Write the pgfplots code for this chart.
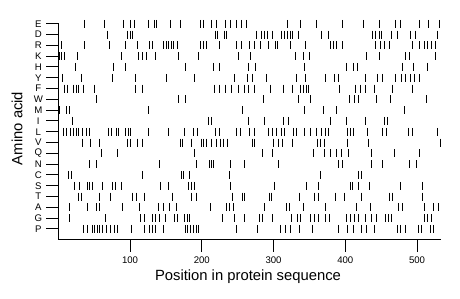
\documentclass[border=0pt]{standalone}
\usepackage{pgfplots}
\pgfplotsset{compat=1.18}
\usepackage{fontspec}
\setmainfont{Liberation Sans}
\begin{document}
\begin{tikzpicture}
\useasboundingbox (0,0) rectangle (460pt,299pt);
\begin{axis}[
  at={(58.3pt,59.2pt)}, anchor=south west,
  scale only axis, width=382.4pt, height=217.1pt,
  xmin=0, xmax=533, ymin=0, ymax=20.1,
  clip=false,
  axis x line=bottom, axis y line=left,
  axis line style={-, line width=1pt},
  tick style={line width=1pt, black},
  tick align=outside, major tick length=12pt,
  xtick={100,200,300,400,500},
  ytick={1,...,20},
  yticklabels={P,G,A,T,S,C,N,Q,V,L,I,M,W,F,Y,H,K,R,D,E},
  /pgf/number format/assume math mode=true,
  ticklabel style={font=\fontsize{9.6}{11}\selectfont},
  yticklabel style={anchor=center, xshift=-8pt},
  xticklabel style={anchor=north, yshift=-1pt},
  xlabel={Position in protein sequence},
  ylabel={Amino acid},
  label style={font=\fontsize{14.8}{17}\selectfont},
  xlabel style={at={(axis description cs:0.496,-0.170)}, anchor=center},
  ylabel style={at={(axis description cs:-0.108,0.513)}, anchor=center},
  rug/.style={black, only marks, mark=|, mark size=4pt, mark options={line width=0.9pt, black}},
]
% E
\addplot[rug] coordinates {(37,20)(64,20)(91,20)(101,20)(106,20)(126,20)(134,20)(137,20)(157,20)(170,20)(198,20)(203,20)(214,20)(221,20)(233,20)(240,20)(248,20)(255,20)(262,20)(320,20)(337,20)(360,20)(396,20)(426,20)(447,20)(470,20)(477,20)(503,20)(516,20)(531,20)};
% D
\addplot[rug] coordinates {(68,19)(97,19)(101,19)(104,19)(219,19)(222,19)(231,19)(234,19)(276,19)(283,19)(288,19)(291,19)(299,19)(311,19)(315,19)(319,19)(323,19)(326,19)(335,19)(367,19)(376,19)(438,19)(442,19)(447,19)(451,19)(465,19)(473,19)(491,19)(498,19)(528,19)};
% R
\addplot[rug] coordinates {(4,18)(37,18)(71,18)(94,18)(110,18)(127,18)(131,18)(147,18)(151,18)(154,18)(158,18)(161,18)(166,18)(198,18)(202,18)(206,18)(224,18)(249,18)(255,18)(266,18)(274,18)(282,18)(293,18)(303,18)(306,18)(324,18)(344,18)(380,18)(383,18)(387,18)(396,18)(442,18)(449,18)(454,18)(461,18)(493,18)(504,18)(510,18)(515,18)(520,18)(526,18)};
% K
\addplot[rug] coordinates {(1,17)(5,17)(9,17)(27,17)(88,17)(112,17)(117,17)(123,17)(136,17)(168,17)(196,17)(251,17)(268,17)(331,17)(342,17)(350,17)(430,17)(448,17)(484,17)(489,17)(526,17)};
% H
\addplot[rug] coordinates {(24,16)(77,16)(94,16)(177,16)(216,16)(225,16)(265,16)(275,16)(343,16)(401,16)(411,16)(417,16)(480,16)(495,16)(514,16)};
% Y
\addplot[rug] coordinates {(6,15)(32,15)(75,15)(107,15)(151,15)(190,15)(245,15)(263,15)(271,15)(290,15)(332,15)(345,15)(373,15)(385,15)(391,15)(428,15)(445,15)(452,15)(470,15)(478,15)(484,15)(491,15)(496,15)(503,15)};
% F
\addplot[rug] coordinates {(9,14)(13,14)(21,14)(25,14)(28,14)(35,14)(50,14)(108,14)(117,14)(218,14)(225,14)(233,14)(242,14)(251,14)(259,14)(265,14)(273,14)(295,14)(314,14)(327,14)(338,14)(342,14)(346,14)(349,14)(392,14)(414,14)(421,14)(428,14)(440,14)(466,14)(493,14)};
% W
\addplot[rug] coordinates {(53,13)(167,13)(177,13)(286,13)(335,13)(352,13)(406,13)(413,13)(418,13)(443,13)(463,13)(513,13)};
% M
\addplot[rug] coordinates {(2,12)(11,12)(15,12)(125,12)(256,12)(343,12)(369,12)(388,12)(482,12)};
% I
\addplot[rug] coordinates {(20,11)(209,11)(213,11)(265,11)(287,11)(314,11)(321,11)(379,11)(402,11)(428,11)(454,11)(459,11)};
% L
\addplot[rug] coordinates {(7,10)(12,10)(17,10)(21,10)(25,10)(28,10)(34,10)(39,10)(43,10)(70,10)(74,10)(81,10)(84,10)(93,10)(98,10)(101,10)(125,10)(153,10)(176,10)(189,10)(194,10)(219,10)(224,10)(249,10)(254,10)(267,10)(274,10)(293,10)(298,10)(304,10)(311,10)(315,10)(328,10)(332,10)(343,10)(351,10)(360,10)(367,10)(372,10)(376,10)(403,10)(407,10)(411,10)(431,10)(452,10)(457,10)(488,10)(493,10)(528,10)};
% V
\addplot[rug] coordinates {(33,9)(45,9)(57,9)(97,9)(100,9)(110,9)(117,9)(170,9)(173,9)(186,9)(200,9)(203,9)(207,9)(213,9)(221,9)(226,9)(230,9)(236,9)(270,9)(273,9)(300,9)(307,9)(312,9)(327,9)(361,9)(365,9)(371,9)(403,9)(432,9)(532,9)};
% Q
\addplot[rug] coordinates {(60,8)(82,8)(190,8)(284,8)(298,8)(355,8)(371,8)(380,8)(387,8)(394,8)(404,8)(436,8)(469,8)(503,8)};
% N
\addplot[rug] coordinates {(43,7)(53,7)(141,7)(192,7)(211,7)(213,7)(216,7)(240,7)(259,7)(307,7)(391,7)(396,7)(437,7)(452,7)(489,7)(499,7)};
% C
\addplot[rug] coordinates {(14,6)(18,6)(117,6)(171,6)(174,6)(183,6)(238,6)(365,6)(419,6)(422,6)};
% S
\addplot[rug] coordinates {(22,5)(29,5)(40,5)(43,5)(48,5)(61,5)(76,5)(80,5)(88,5)(143,5)(153,5)(181,5)(185,5)(190,5)(240,5)(301,5)(346,5)(363,5)(407,5)(410,5)(419,5)(433,5)(477,5)(507,5)};
% T
\addplot[rug] coordinates {(28,4)(32,4)(57,4)(72,4)(104,4)(109,4)(120,4)(159,4)(185,4)(192,4)(243,4)(256,4)(260,4)(294,4)(297,4)(336,4)(357,4)(362,4)(386,4)(399,4)(423,4)(461,4)(466,4)(507,4)};
% A
\addplot[rug] coordinates {(15,3)(40,3)(53,3)(58,3)(90,3)(113,3)(140,3)(146,3)(155,3)(164,3)(212,3)(234,3)(238,3)(244,3)(288,3)(318,3)(322,3)(341,3)(373,3)(415,3)(435,3)(474,3)(480,3)(510,3)(523,3)(530,3)};
% G
\addplot[rug] coordinates {(15,2)(66,2)(115,2)(120,2)(131,2)(136,2)(141,2)(150,2)(162,2)(166,2)(176,2)(180,2)(183,2)(229,2)(246,2)(260,2)(280,2)(284,2)(299,2)(325,2)(334,2)(338,2)(351,2)(357,2)(362,2)(373,2)(378,2)(401,2)(407,2)(413,2)(419,2)(428,2)(437,2)(443,2)(456,2)(460,2)(465,2)(511,2)(515,2)(520,2)};
% P
\addplot[rug] coordinates {(35,1)(41,1)(47,1)(51,1)(55,1)(58,1)(62,1)(67,1)(73,1)(78,1)(83,1)(102,1)(120,1)(127,1)(131,1)(136,1)(147,1)(177,1)(180,1)(184,1)(189,1)(192,1)(196,1)(249,1)(278,1)(309,1)(316,1)(323,1)(336,1)(354,1)(390,1)(403,1)(411,1)(422,1)(430,1)(441,1)(473,1)(477,1)(484,1)(502,1)(506,1)(519,1)(523,1)};
\end{axis}
\end{tikzpicture}
\end{document}
